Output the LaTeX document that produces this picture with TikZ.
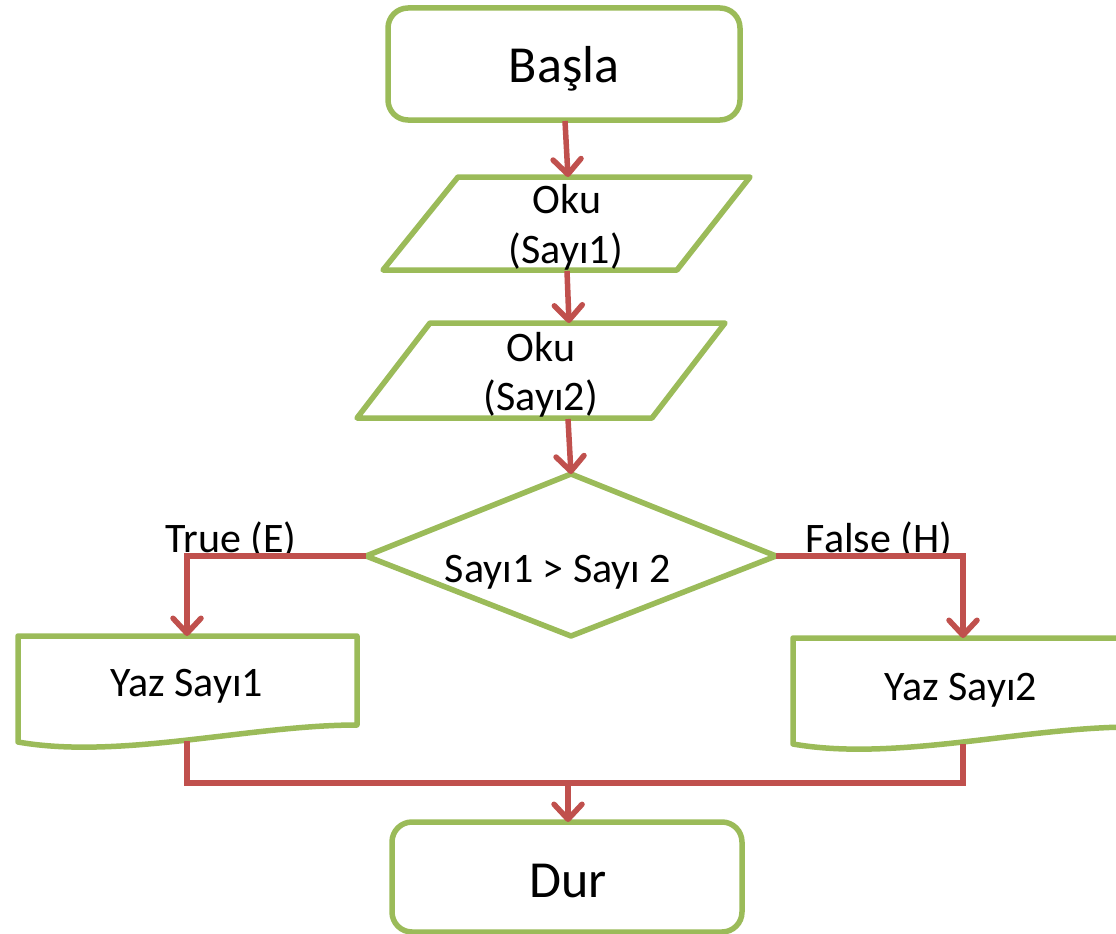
\documentclass[tikz,border=0pt]{standalone}
\usepackage{fontspec}
\setmainfont{Carlito}
\usetikzlibrary{arrows.meta}
\definecolor{boxgreen}{RGB}{155,187,89}
\definecolor{linkred}{RGB}{192,80,77}
\begin{document}
\begin{tikzpicture}[x=1pt,y=-1pt,
  outline/.style={draw=boxgreen,line width=5.5pt,line join=round,fill=white},
  link/.style={draw=linkred,line width=5.5pt,-{Straight Barb[length=15pt,width=28pt,round]}},
  wire/.style={draw=linkred,line width=5.5pt},
  lbl/.style={anchor=base,inner sep=0pt,font=\fontsize{42}{50}\selectfont},
  biglbl/.style={anchor=base,inner sep=0pt,font=\fontsize{52}{62}\selectfont}]
\useasboundingbox (0,0) rectangle (1116,934);

% start terminal
\draw[outline,rounded corners=20pt] (388,8) rectangle (740,120);
\node[biglbl] (basla) at (564,82) {Başla};
\coordinate (basla-s) at (565,121);

% first input
\draw[outline] (458,177) -- (750,177) -- (677,270) -- (383,270) -- cycle;
\node[lbl] (oku1) at (567,213) {Oku};
\node[lbl] (say1) at (566,263) {(Sayı1)};
\coordinate (in1-n) at (568,177);
\coordinate (in1-s) at (567,271);

% second input
\draw[outline] (430,323) -- (725,323) -- (652,418) -- (357,418) -- cycle;
\node[lbl] (oku2) at (541,361) {Oku};
\node[lbl] (say2) at (541,410) {(Sayı2)};
\coordinate (in2-n) at (569,323);
\coordinate (in2-s) at (568,419);

% decision
\draw[outline] (571,474) -- (776,556) -- (571,636) -- (366,556) -- cycle;
\node[lbl] (cond) at (558,582) {Sayı1 > Sayı 2};
\coordinate (dec-n) at (571,474);
\coordinate (dec-w) at (366,556);
\coordinate (dec-e) at (776,556);

% output documents
\draw[outline] (18,636) -- (357,636) -- (357,725)
  .. controls (250,725) and (120,760) .. (18,742) -- cycle;
\node[lbl] (yaz1) at (187,696) {Yaz Sayı1};
\coordinate (doc1-n) at (187,636);
\coordinate (doc1-s) at (187,741);

\draw[outline] (793,638) -- (1132,638) -- (1132,727)
  .. controls (1025,727) and (895,762) .. (793,744) -- cycle;
\node[lbl] (yaz2) at (961,700) {Yaz Sayı2};
\coordinate (doc2-n) at (963,638);
\coordinate (doc2-s) at (963,744);

% stop terminal
\draw[outline,rounded corners=20pt] (392,822) rectangle (742,932);
\node[biglbl] (dur) at (568,897) {Dur};
\coordinate (dur-n) at (568,822);

% branch labels
\node[lbl] (ltrue) at (231,552) {True (E)};
\node[lbl] (lfalse) at (879,552) {False (H)};

% connectors
\draw[link] (basla-s) -- (in1-n);
\draw[link] (in1-s) -- (in2-n);
\draw[link] (in2-s) -- (dec-n);
\draw[link] (dec-w) -| (doc1-n);
\draw[link] (dec-e) -| (doc2-n);
\coordinate (join) at (568,783);
\draw[wire] (doc1-s) |- (join);
\draw[wire] (doc2-s) |- (join);
\draw[link] (join) -- (dur-n);
\end{tikzpicture}
\end{document}
